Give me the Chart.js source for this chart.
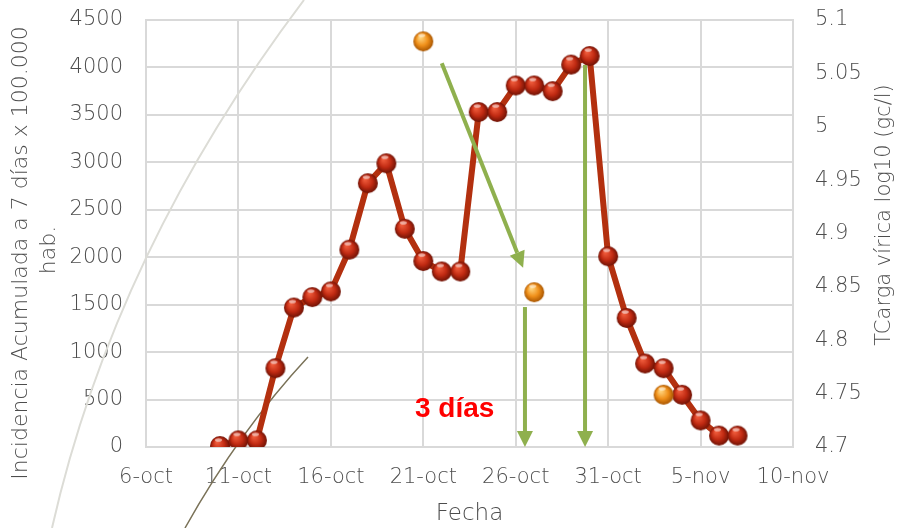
<!DOCTYPE html>
<html>
<head>
<meta charset="utf-8">
<script src="https://cdn.jsdelivr.net/npm/chart.js@4.4.1/dist/chart.umd.min.js"></script>
<style>
  html, body { margin: 0; padding: 0; background: #fff; }
  #wrap { width: 899px; height: 528px; }
</style>
</head>
<body>
<div id="wrap"><canvas id="myChart" width="899" height="528"></canvas></div>
<script>
// datos
const fechas = ['10-oct','11-oct','12-oct','13-oct','14-oct','15-oct','16-oct','17-oct','18-oct','19-oct',
  '20-oct','21-oct','22-oct','23-oct','24-oct','25-oct','26-oct','27-oct','28-oct','29-oct','30-oct',
  '31-oct','1-nov','2-nov','3-nov','4-nov','5-nov','6-nov','7-nov'];
const incidencia = [10, 70, 70, 830, 1470, 1580, 1640, 2080, 2780, 2990,
  2300, 1960, 1850, 1850, 3530, 3530, 3810, 3810, 3750, 4030, 4120,
  2010, 1360, 880, 830, 550, 280, 120, 120];
const fechasCarga = ['21-oct', '27-oct', '3-nov'];
const carga = [5.08, 4.845, 4.749];
const etiquetasX = ['6-oct','11-oct','16-oct','21-oct','26-oct','31-oct','5-nov','10-nov'];

// anotaciones (dia desde 6-oct, incidencia)
const flechas = [
  { desde: [16.0, 4045], hasta: [20.4, 1890] },
  { desde: [20.5, 1475], hasta: [20.5, 0] },
  { desde: [23.75, 4025], hasta: [23.75, 0] }
];
const texto3dias = { x: 16.7, y: 400, texto: '3 días' };
const tituloIzq = ['Incidencia Acumulada a 7 días x 100.000', 'hab.'];
const tituloDerecho = 'TCarga vírica log10 (gc/l)';

// 6-oct = dia 0
const dia = function(f){
  const p = f.split('-');
  const d = parseInt(p[0]);
  return p[1] === 'oct' ? d - 6 : d + 25;
};

const esfera = function(r, luz, base, sombra){
  const c = document.createElement('canvas');
  c.width = c.height = r * 2 + 2;
  const g = c.getContext('2d');
  const cx = r + 1, cy = r + 1;
  const grad = g.createRadialGradient(cx - r * 0.3, cy - r * 0.4, r * 0.1, cx, cy, r);
  grad.addColorStop(0, luz);
  grad.addColorStop(0.55, base);
  grad.addColorStop(1, sombra);
  g.fillStyle = grad;
  g.beginPath(); g.arc(cx, cy, r, 0, Math.PI * 2); g.fill();
  // brillo
  g.fillStyle = 'rgba(255,255,255,0.55)';
  g.beginPath(); g.ellipse(cx - r * 0.15, cy - r * 0.6, r * 0.35, r * 0.18, 0, 0, Math.PI * 2); g.fill();
  return c;
};

const bolaRoja = esfera(10, '#ee5a3a', '#c02a12', '#6e1205');
const bolaNaranja = esfera(10, '#ffd27a', '#f0901a', '#a85500');

const fuente = '"DejaVu Sans", sans-serif';
const tickFont = { family: fuente, size: 21, weight: '200' };
const gris = '#4d4d4d';

const decoracion = {
  id: 'decoracion',
  beforeDatasetsDraw(chart){
    const ctx = chart.ctx;
    ctx.save();
    ctx.strokeStyle = '#dcdcd6';
    ctx.lineWidth = 2;
    ctx.beginPath();
    ctx.moveTo(304, 0);
    ctx.quadraticCurveTo(115, 250, 52, 528);
    ctx.stroke();
    ctx.strokeStyle = '#7a7258';
    ctx.lineWidth = 1.5;
    ctx.beginPath();
    ctx.moveTo(308, 357);
    ctx.quadraticCurveTo(240, 430, 185, 528);
    ctx.stroke();
    ctx.restore();
  }
};

const anotaciones = {
  id: 'anotaciones',
  afterDatasetsDraw(chart){
    const ctx = chart.ctx;
    const sx = chart.scales.x, sy = chart.scales.y;
    ctx.save();
    ctx.strokeStyle = '#8fb04e';
    ctx.fillStyle = '#8fb04e';
    ctx.lineWidth = 4;
    flechas.forEach(function(f){
      const x0 = sx.getPixelForValue(f.desde[0]), y0 = sy.getPixelForValue(f.desde[1]);
      const x1 = sx.getPixelForValue(f.hasta[0]), y1 = sy.getPixelForValue(f.hasta[1]);
      const ang = Math.atan2(y1 - y0, x1 - x0);
      const largo = 16, ancho = 8;
      const bx = x1 - Math.cos(ang) * largo, by = y1 - Math.sin(ang) * largo;
      ctx.beginPath(); ctx.moveTo(x0, y0); ctx.lineTo(bx, by); ctx.stroke();
      ctx.beginPath();
      ctx.moveTo(x1, y1);
      ctx.lineTo(bx + Math.sin(ang) * ancho, by - Math.cos(ang) * ancho);
      ctx.lineTo(bx - Math.sin(ang) * ancho, by + Math.cos(ang) * ancho);
      ctx.closePath(); ctx.fill();
    });
    ctx.fillStyle = '#ff0000';
    ctx.font = 'bold 28px "Liberation Sans", Arial, sans-serif';
    ctx.textAlign = 'center';
    ctx.textBaseline = 'middle';
    ctx.fillText(texto3dias.texto, sx.getPixelForValue(texto3dias.x), sy.getPixelForValue(texto3dias.y));
    ctx.restore();

    // titulos de los ejes verticales, leidos de abajo hacia arriba
    ctx.save();
    ctx.fillStyle = gris;
    ctx.textAlign = 'center';
    ctx.textBaseline = 'middle';
    ctx.font = '200 22px ' + fuente;
    ctx.save();
    ctx.translate(21, 253);
    ctx.rotate(-Math.PI / 2);
    ctx.fillText(tituloIzq[0], 0, 0);
    ctx.restore();
    ctx.save();
    ctx.translate(49, 250);
    ctx.rotate(-Math.PI / 2);
    ctx.fillText(tituloIzq[1], 0, 0);
    ctx.restore();
    ctx.font = '200 21px ' + fuente;
    ctx.translate(chart.scales.y1.right - 14, 215);
    ctx.rotate(-Math.PI / 2);
    ctx.fillText(tituloDerecho, 0, 0);
    ctx.restore();
  }
};

const sinPadding = (s) => { s.paddingTop = 0; s.paddingBottom = 0; };

const ctx = document.getElementById('myChart').getContext('2d');
const myChart = new Chart(ctx, {
  type: 'line',
  data: {
    datasets: [{
      label: 'Incidencia',
      data: fechas.map((f, i) => ({ x: dia(f), y: incidencia[i] })),
      borderColor: '#b3300f',
      borderWidth: 6,
      pointStyle: bolaRoja,
      yAxisID: 'y',
      order: 2
    }, {
      label: 'Carga vírica',
      data: fechasCarga.map((f, i) => ({ x: dia(f), y: carga[i] })),
      showLine: false,
      pointStyle: bolaNaranja,
      yAxisID: 'y1',
      order: 1
    }]
  },
  options: {
    responsive: false,
    animation: false,
    events: [],
    layout: { padding: { top: 20, left: 0, right: 0, bottom: 0 } },
    plugins: { legend: { display: false }, tooltip: { enabled: false } },
    scales: {
      x: {
        type: 'linear', min: 0, max: 35,
        afterFit: (s) => { s.height = 81; s.paddingLeft = 0; s.paddingRight = 0; },
        ticks: { stepSize: 5, color: gris, font: tickFont, padding: 18, maxRotation: 0,
          callback: (v) => etiquetasX[v / 5] },
        grid: { color: '#d9d9d9', lineWidth: 2, drawTicks: false },
        border: { color: '#d9d9d9', width: 2 },
        title: { display: true, text: 'Fecha', color: gris, font: { family: fuente, size: 23, weight: '200', lineHeight: 1.2 }, padding: { top: 0, bottom: 0 } }
      },
      y: {
        position: 'left', min: 0, max: 4500,
        afterFit: (s) => { s.width = 146; sinPadding(s); },
        ticks: { stepSize: 500, color: gris, font: tickFont, padding: 23, callback: (v) => String(v) },
        grid: { color: '#d9d9d9', lineWidth: 2, drawTicks: false },
        border: { color: '#d9d9d9', width: 2 }
      },
      y1: {
        position: 'right', min: 4.7, max: 5.1,
        afterFit: (s) => { s.width = 106; sinPadding(s); },
        ticks: { stepSize: 0.05, color: gris, font: tickFont, padding: 22,
          callback: (v) => String(Number(v.toFixed(2))) },
        grid: { display: false, drawTicks: false },
        border: { color: '#d9d9d9', width: 2 }
      }
    }
  },
  plugins: [decoracion, anotaciones]
});
</script>
</body>
</html>
